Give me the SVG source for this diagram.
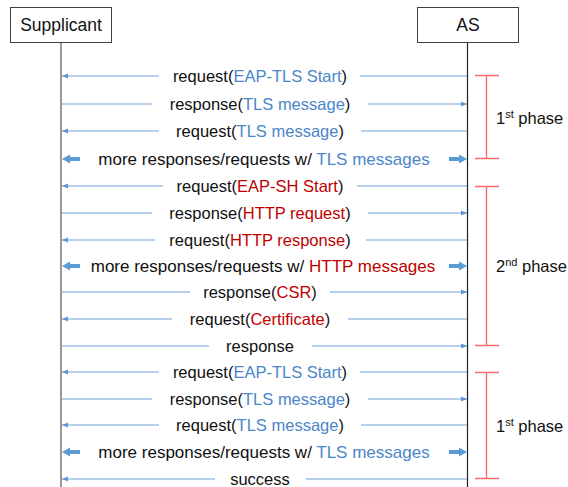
<svg xmlns="http://www.w3.org/2000/svg" width="568" height="487" viewBox="0 0 568 487">
<defs>
<marker id="ah" markerUnits="userSpaceOnUse" markerWidth="7" markerHeight="6" refX="6" refY="3" orient="auto"><path d="M0,0.5 L6,3 L0,5.5 z" fill="#5E95D2"/></marker>
<path id="blk" d="M0,0 L8,-4.5 L8,-2 L18,-2 L18,2 L8,2 L8,4.5 z" fill="#5B9BD5"/>
</defs>
<style>
text{font-family:"Liberation Sans",Arial,sans-serif;font-size:16.5px;fill:#111}
.c{text-anchor:middle}
.b{fill:#4A86C8}
.r{fill:#C00000}
.m{font-size:17px}
.h{font-size:17.5px}
.ln{stroke:#6E9FD6;stroke-width:1.2;fill:none}
.br{stroke:#FF6A6A;stroke-width:1.4;fill:none}
.box{fill:#fff;stroke:#404040;stroke-width:1}
.sup{font-size:11px}
</style>
<g id="supplicant">
<rect class="box" x="10.5" y="7.5" width="101" height="35"/>
<text class="c h" x="61" y="31">Supplicant</text>
<line x1="61" y1="43" x2="61" y2="487" stroke="#7F7F7F" stroke-width="1.6"/>
</g>
<g id="as">
<rect class="box" x="417.5" y="7.5" width="101" height="35"/>
<text class="c h" x="468" y="31">AS</text>
<line x1="467.5" y1="43" x2="467.5" y2="487" stroke="#222" stroke-width="1.2"/>
</g>
<g id="connectors">
<line class="ln" x1="467" y1="76" x2="360" y2="76"/><line class="ln" x1="159" y1="76" x2="62" y2="76" marker-end="url(#ah)"/>
<line class="ln" x1="61" y1="104" x2="152" y2="104"/><line class="ln" x1="368" y1="104" x2="467" y2="104" marker-end="url(#ah)"/>
<line class="ln" x1="467" y1="131" x2="361" y2="131"/><line class="ln" x1="159" y1="131" x2="62" y2="131" marker-end="url(#ah)"/>
<use href="#blk" x="62" y="159"/><use href="#blk" transform="translate(467,159) scale(-1,1)"/>
<line class="ln" x1="467" y1="186" x2="357" y2="186"/><line class="ln" x1="163" y1="186" x2="62" y2="186" marker-end="url(#ah)"/>
<line class="ln" x1="61" y1="213" x2="152" y2="213"/><line class="ln" x1="368" y1="213" x2="467" y2="213" marker-end="url(#ah)"/>
<line class="ln" x1="467" y1="240" x2="366" y2="240"/><line class="ln" x1="155" y1="240" x2="62" y2="240" marker-end="url(#ah)"/>
<use href="#blk" x="62" y="266"/><use href="#blk" transform="translate(467,266) scale(-1,1)"/>
<line class="ln" x1="61" y1="292" x2="190" y2="292"/><line class="ln" x1="330" y1="292" x2="467" y2="292" marker-end="url(#ah)"/>
<line class="ln" x1="467" y1="319" x2="348" y2="319"/><line class="ln" x1="172" y1="319" x2="62" y2="319" marker-end="url(#ah)"/>
<line class="ln" x1="61" y1="346" x2="209" y2="346"/><line class="ln" x1="312" y1="346" x2="467" y2="346" marker-end="url(#ah)"/>
<line class="ln" x1="467" y1="372" x2="360" y2="372"/><line class="ln" x1="159" y1="372" x2="62" y2="372" marker-end="url(#ah)"/>
<line class="ln" x1="61" y1="399" x2="152" y2="399"/><line class="ln" x1="368" y1="399" x2="467" y2="399" marker-end="url(#ah)"/>
<line class="ln" x1="467" y1="425" x2="361" y2="425"/><line class="ln" x1="159" y1="425" x2="62" y2="425" marker-end="url(#ah)"/>
<use href="#blk" x="62" y="452"/><use href="#blk" transform="translate(467,452) scale(-1,1)"/>
<line class="ln" x1="467" y1="479" x2="306" y2="479"/><line class="ln" x1="215" y1="479" x2="62" y2="479" marker-end="url(#ah)"/>
</g>
<g id="labels">
<text class="c" x="260" y="82">request(<tspan class="b">EAP-TLS Start</tspan>)</text>
<text class="c" x="260" y="110">response(<tspan class="b">TLS message</tspan>)</text>
<text class="c" x="260" y="137">request(<tspan class="b">TLS message</tspan>)</text>
<text class="c m" x="264" y="165">more responses/requests w/ <tspan class="b">TLS messages</tspan></text>
<text class="c" x="260" y="192">request(<tspan class="r">EAP-SH Start</tspan>)</text>
<text class="c" x="260" y="219">response(<tspan class="r">HTTP request</tspan>)</text>
<text class="c" x="260" y="246">request(<tspan class="r">HTTP response</tspan>)</text>
<text class="c m" x="263" y="272">more responses/requests w/ <tspan class="r">HTTP messages</tspan></text>
<text class="c" x="260" y="298">response(<tspan class="r">CSR</tspan>)</text>
<text class="c" x="260" y="325">request(<tspan class="r">Certificate</tspan>)</text>
<text class="c" x="260" y="352">response</text>
<text class="c" x="260" y="378">request(<tspan class="b">EAP-TLS Start</tspan>)</text>
<text class="c" x="260" y="405">response(<tspan class="b">TLS message</tspan>)</text>
<text class="c" x="260" y="431">request(<tspan class="b">TLS message</tspan>)</text>
<text class="c m" x="264" y="458">more responses/requests w/ <tspan class="b">TLS messages</tspan></text>
<text class="c" x="260" y="485">success</text>
</g>
<g id="phase1">
<path class="br" d="M475,75.5 H499 M486.5,75.5 V158.5 M475,158.5 H499"/>
<text x="496" y="124">1<tspan class="sup" dy="-6">st</tspan><tspan dy="6"> phase</tspan></text>
</g>
<g id="phase2">
<path class="br" d="M475,186.5 H499 M486.5,186.5 V345.5 M475,345.5 H499"/>
<text x="496" y="272">2<tspan class="sup" dy="-6">nd</tspan><tspan dy="6"> phase</tspan></text>
</g>
<g id="phase3">
<path class="br" d="M475,372.5 H499 M486.5,372.5 V478.5 M475,478.5 H499"/>
<text x="496" y="432">1<tspan class="sup" dy="-6">st</tspan><tspan dy="6"> phase</tspan></text>
</g>
</svg>
